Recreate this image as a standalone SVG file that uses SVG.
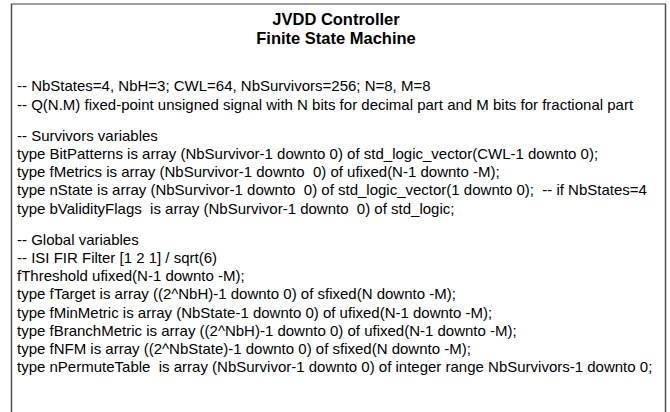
<svg xmlns="http://www.w3.org/2000/svg" width="670" height="412" viewBox="0 0 670 412">
  <style>
    .title { font-family: "Liberation Sans", Arial, sans-serif; font-size: 16.5px; font-weight: bold; fill: #000; text-anchor: middle; }
    .code { font-family: "Liberation Sans", Arial, sans-serif; font-size: 15px; fill: #000; white-space: pre; }
  </style>
  <rect x="0" y="0" width="670" height="412" fill="#ffffff"/>
  <g id="frame">
    <line x1="11" y1="4" x2="666" y2="4" stroke="#a0a0a0" stroke-width="2"/>
    <line x1="11.5" y1="4" x2="11.5" y2="412" stroke="#505050" stroke-width="1.5"/>
    <line x1="665.5" y1="4" x2="665.5" y2="412" stroke="#505050" stroke-width="1.5"/>
  </g>
  <g id="title">
    <text class="title" x="336" y="25">JVDD Controller</text>
    <text class="title" x="336" y="44">Finite State Machine</text>
  </g>
  <g id="code">
    <text class="code" x="17" y="91">-- NbStates=4, NbH=3; CWL=64, NbSurvivors=256; N=8, M=8</text>
    <text class="code" x="17" y="110">-- Q(N.M) fixed-point unsigned signal with N bits for decimal part and M bits for fractional part</text>
    <text class="code" x="17" y="141">-- Survivors variables</text>
    <text class="code" x="17" y="159">type BitPatterns is array (NbSurvivor-1 downto 0) of std_logic_vector(CWL-1 downto 0);</text>
    <text class="code" x="17" y="177">type fMetrics is array (NbSurvivor-1 downto  0) of ufixed(N-1 downto -M);</text>
    <text class="code" x="17" y="195">type nState is array (NbSurvivor-1 downto  0) of std_logic_vector(1 downto 0);  -- if NbStates=4</text>
    <text class="code" x="17" y="214">type bValidityFlags  is array (NbSurvivor-1 downto  0) of std_logic;</text>
    <text class="code" x="17" y="245">-- Global variables</text>
    <text class="code" x="17" y="263">-- ISI FIR Filter [1 2 1] / sqrt(6)</text>
    <text class="code" x="17" y="281">fThreshold ufixed(N-1 downto -M);</text>
    <text class="code" x="17" y="299">type fTarget is array ((2^NbH)-1 downto 0) of sfixed(N downto -M);</text>
    <text class="code" x="17" y="318">type fMinMetric is array (NbState-1 downto 0) of ufixed(N-1 downto -M);</text>
    <text class="code" x="17" y="336">type fBranchMetric is array ((2^NbH)-1 downto 0) of ufixed(N-1 downto -M);</text>
    <text class="code" x="17" y="354">type fNFM is array ((2^NbState)-1 downto 0) of sfixed(N downto -M);</text>
    <text class="code" x="17" y="372">type nPermuteTable  is array (NbSurvivor-1 downto 0) of integer range NbSurvivors-1 downto 0;</text>
  </g>
</svg>
